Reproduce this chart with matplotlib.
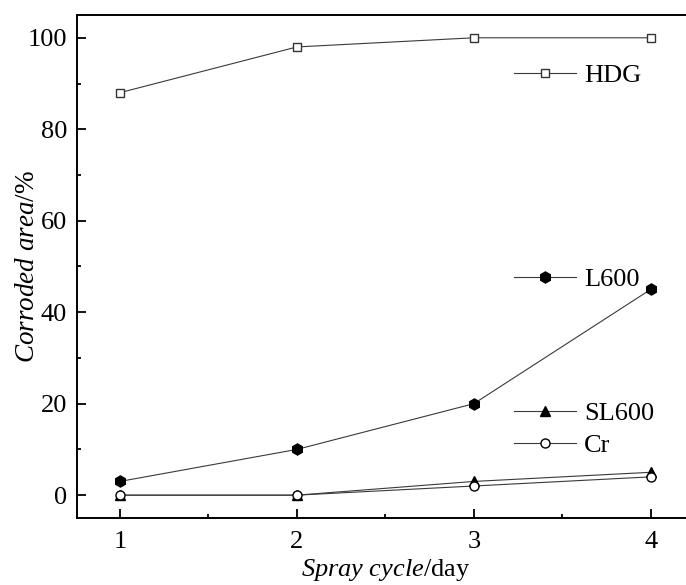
import numpy as np
import matplotlib
matplotlib.use('Agg')
import matplotlib.pyplot as plt
from matplotlib.ticker import MultipleLocator

plt.rcParams['font.family'] = ['Liberation Serif', 'DejaVu Serif']
plt.rcParams['mathtext.fontset'] = 'custom'
plt.rcParams['mathtext.rm'] = 'Liberation Serif'
plt.rcParams['mathtext.it'] = 'Liberation Serif:italic'

# 数据
cycles = [1, 2, 3, 4]
hdg = [88, 98, 100, 100]
l600 = [3, 10, 20, 45]
sl600 = [0, 0, 3, 5]
cr = [0, 0, 2, 4]

fig = plt.figure(figsize=(6.86, 5.85), dpi=100)
ax = fig.add_axes([0.1122, 0.1145, 0.901, 0.86])

line_kw = dict(color='#3a3a3a', linewidth=0.8, markeredgewidth=1.0)
h1, = ax.plot(cycles, hdg, marker='s', markersize=6.2, markerfacecolor='white',
              markeredgecolor='#333333', label='HDG', **line_kw)
h2, = ax.plot(cycles, l600, marker='h', markersize=8, markerfacecolor='black',
              markeredgecolor='black', label='L600', **line_kw)
h3, = ax.plot(cycles, sl600, marker='^', markersize=6.5, markerfacecolor='black',
              markeredgecolor='black', label='SL600', **line_kw)
h4, = ax.plot(cycles, cr, marker='o', markersize=6.5, markerfacecolor='white',
              markeredgecolor='black', label='Cr', **line_kw)

ax.set_xlim(0.757, 4.25)
ax.set_ylim(-5, 105)
ax.set_xticks(cycles)
ax.set_yticks([0, 20, 40, 60, 80, 100])
ax.xaxis.set_minor_locator(MultipleLocator(0.5))
ax.yaxis.set_minor_locator(MultipleLocator(10))
ax.tick_params(which='both', direction='in', labelsize=19, width=1.3)
ax.tick_params(which='major', length=6.5)
ax.tick_params(which='minor', length=3)
ax.tick_params(axis='x', pad=9)
ax.tick_params(axis='y', pad=7)
for s in ax.spines.values():
    s.set_linewidth(1.4)
ax.spines['right'].set_visible(False)

ax.set_xlabel(r'$\mathit{Spray\ cycle}$/day', fontsize=19, labelpad=3.5)
ax.set_ylabel(r'$\mathit{Corroded\ area}$/%', fontsize=19.5)
ax.yaxis.set_label_coords(-0.060, 0.5)

# 图例（分三组放置）
leg_kw = dict(frameon=False, fontsize=19, handlelength=2.35, handletextpad=0.3,
              borderaxespad=0, labelspacing=0.32)
lg1 = ax.legend(handles=[h1], loc='center left', bbox_to_anchor=(0.69, 0.880), **leg_kw)
ax.add_artist(lg1)
lg2 = ax.legend(handles=[h2], loc='center left', bbox_to_anchor=(0.69, 0.475), **leg_kw)
ax.add_artist(lg2)
ax.legend(handles=[h3, h4], loc='center left', bbox_to_anchor=(0.69, 0.176), **leg_kw)

fig.savefig('out.png', dpi=100, facecolor='white')
